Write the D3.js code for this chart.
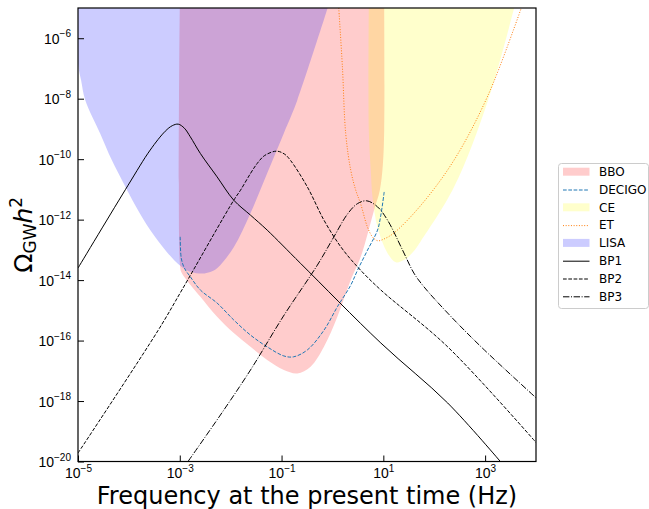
<!DOCTYPE html>
<html lang="en">
<head>
<meta charset="UTF-8">
<title>GW spectra vs detector sensitivities</title>
<script src="https://d3js.org/d3.v7.min.js"></script>
<style>
  body { margin: 0; background: #fff; }
  svg { display: block; font-family: "DejaVu Sans", sans-serif; }
</style>
</head>
<body>
<svg id="chart" width="649" height="509"></svg>
<script>
// all points are [frequency (Hz), Omega_GW h^2]

// sensitivity regions (filled)
const lisa = [
  [1e-5, 1e-5], [1e-5, 1.5e-7], [1.15e-5, 4.1e-8], [1.39e-5, 8.9e-9],
  [2.71e-5, 7.2e-10], [4.61e-5, 9.3e-11], [7.71e-5, 1.7e-11], [1.33e-4, 3.0e-12],
  [2.62e-4, 4.5e-13], [5.6e-4, 8.4e-14], [1.02e-3, 3.0e-14], [1.61e-3, 1.9e-14],
  [2.77e-3, 1.64e-14], [3.99e-3, 1.84e-14], [5.48e-3, 2.5e-14], [1.15e-2, 1.23e-13],
  [2.45e-2, 1.64e-12], [5.22e-2, 3.4e-11], [0.111, 7.2e-10], [0.204, 8.9e-9],
  [0.805, 1e-5]
];
const bbo = [
  [1e-3, 1e-5], [1e-3, 3.9e-14], [1.07e-3, 1.84e-14], [1.28e-3, 1.16e-14],
  [2.54e-3, 2.8e-15], [5.41e-3, 6.1e-16], [1.15e-2, 1.77e-16], [2.45e-2, 6.2e-17],
  [5.22e-2, 2.27e-17], [0.111, 1.06e-17], [0.204, 8.2e-18], [0.372, 1.36e-17],
  [0.681, 6.2e-17], [1.25, 6.1e-16], [2.29, 1.0e-14], [3.6, 5.9e-14],
  [6.59, 2.1e-12], [8.53, 9.4e-12], [9.77, 6.3e-11], [10.4, 9.1e-10], [10.4, 1e-5]
];
const ce = [
  [5.18, 1e-5], [5.18, 9.1e-10], [5.67, 4.3e-11], [6.13, 5.5e-12], [7.69, 5.6e-13],
  [12.1, 7.8e-14], [17.6, 3.9e-14], [25.4, 4.6e-14], [39.9, 9.1e-14], [54.8, 1.95e-13],
  [245, 1.19e-11], [1145, 8.9e-9], [3724, 1e-5]
];

// sensitivity curves (lines)
const decigo = [
  [1.02e-3, 2.7e-13], [1.07e-3, 5.3e-14], [1.23e-3, 2.5e-14], [1.61e-3, 1.29e-14],
  [2.54e-3, 4.7e-15], [5.41e-3, 1.74e-15], [1.15e-2, 4.8e-16], [2.45e-2, 1.52e-16],
  [5.22e-2, 6.2e-17], [0.111, 3.1e-17], [0.172, 2.9e-17], [0.321, 4.9e-17],
  [0.681, 2.2e-16], [1.25, 1.31e-15], [2.29, 6.8e-15], [3.1, 2.1e-14],
  [4.89, 9.8e-14], [7.69, 4.5e-13], [8.93, 1.41e-12], [10.4, 8.3e-12]
];
const et = [
  [1.33, 1e-5], [1.57, 1.12e-7], [1.82, 7.2e-10], [2.29, 4.3e-11], [2.87, 9.4e-12],
  [3.6, 3.25e-12], [4.89, 5.6e-13], [6.21, 2.6e-13], [7.8, 2.0e-13], [10.2, 2.27e-13],
  [16.1, 3.6e-13], [54.8, 3.0e-12], [245, 9.3e-11], [1145, 1.31e-8], [5117, 9.8e-6]
];

// benchmark point spectra
const bp1 = [
  [1e-5, 2.5e-14], [9.66e-5, 1.38e-11], [2.62e-4, 2.0e-10], [5.18e-4, 8.4e-10],
  [7.11e-4, 1.28e-9], [9.33e-4, 1.44e-9], [1.23e-3, 1.06e-9], [1.61e-3, 5.5e-10],
  [2.54e-3, 1.54e-10], [5.41e-3, 2.6e-11], [1.15e-2, 4.4e-12], [2.45e-2, 1.41e-12],
  [5.22e-2, 4.5e-13], [0.237, 3.56e-14], [8.93, 8.3e-17], [184, 8.6e-19], [2100, 9e-21]
];
const bp2 = [
  [1e-5, 1.9e-20], [3.77e-4, 2.2e-16], [1.1e-3, 4.7e-15], [1.15e-2, 4.4e-12],
  [1.56e-2, 9.4e-12], [2.45e-2, 3.36e-11], [3.32e-2, 7.2e-11], [4.62e-2, 1.31e-10],
  [7.96e-2, 1.84e-10], [0.115, 1.46e-10], [0.15, 9.1e-11], [0.321, 1.21e-11],
  [0.681, 9.6e-13], [1.46, 1.26e-13], [3.1, 2.75e-14], [8.93, 4.7e-15],
  [184, 6.2e-17], [1.01e4, 4.2e-20]
];
const bp3 = [
  [1.45e-3, 1e-20], [6.28e-3, 3.44e-19], [2.45e-2, 1.06e-17], [0.109, 6.45e-16],
  [0.505, 3.13e-14], [1.06, 2.64e-13], [1.97, 1.52e-12], [3.1, 3.38e-12],
  [4.73, 4.19e-12], [7.69, 2.65e-12], [12.1, 9.6e-13], [23.9, 9.8e-14],
  [39.9, 1.7e-14], [62.8, 6.0e-15], [184, 8.1e-16], [834, 6.2e-17], [1.01e4, 1.26e-18]
];

const xTicks = [1e-5, 1e-3, 1e-1, 1e1, 1e3];
const yTicks = [1e-20, 1e-18, 1e-16, 1e-14, 1e-12, 1e-10, 1e-8, 1e-6];

const margin = { top: 8, right: 113, bottom: 47.5, left: 78 };
const W = 649, H = 509;

const svg = d3.select("#chart");

const x = d3.scaleLog().domain([1e-5, 1e4]).range([margin.left, W - margin.right]);
const y = d3.scaleLog().domain([1e-20, 1e-5]).range([H - margin.bottom, margin.top]);

svg.append("defs").append("clipPath").attr("id", "plotClip")
  .append("rect")
  .attr("x", margin.left).attr("y", margin.top)
  .attr("width", x.range()[1] - x.range()[0])
  .attr("height", y.range()[0] - y.range()[1]);

const plot = svg.append("g").attr("clip-path", "url(#plotClip)");

const line = d3.line()
  .x(d => x(d[0]))
  .y(d => y(d[1]))
  .curve(d3.curveCatmullRom.alpha(0.5));

// filled regions (drawn in legend order, LISA last)
const regions = [
  { data: bbo, color: "rgba(255,0,0,0.2)" },
  { data: ce, color: "rgba(255,255,0,0.2)" },
  { data: lisa, color: "rgba(0,0,255,0.2)" }
];
regions.forEach(r => {
  plot.append("path")
    .attr("d", line(r.data) + "Z")
    .attr("fill", r.color)
    .attr("stroke", "none");
});

const curves = [
  { data: decigo, color: "#1f77b4", dash: "3.7,1.6" },
  { data: et, color: "#ff7f0e", dash: "1,1.65" },
  { data: bp1, color: "#000", dash: null },
  { data: bp2, color: "#000", dash: "3.7,1.6" },
  { data: bp3, color: "#000", dash: "6.4,1.6,1,1.6" }
];
curves.forEach(c => {
  plot.append("path")
    .attr("d", line(c.data))
    .attr("fill", "none")
    .attr("stroke", c.color)
    .attr("stroke-width", 1)
    .attr("stroke-dasharray", c.dash);
});

// axes: inward ticks, custom 10^n labels
const xAxis = svg.append("g")
  .attr("transform", `translate(0,${y.range()[0]})`)
  .call(d3.axisBottom(x).tickValues(xTicks).tickSizeInner(-6).tickSizeOuter(0).tickFormat(""));
const yAxis = svg.append("g")
  .attr("transform", `translate(${x.range()[0]},0)`)
  .call(d3.axisLeft(y).tickValues(yTicks).tickSizeInner(-6).tickSizeOuter(0).tickFormat(""));
xAxis.select(".domain").remove();
yAxis.select(".domain").remove();
svg.selectAll(".tick line").attr("stroke", "#000").attr("stroke-width", 1);

function powLabel(sel, v) {
  const e = Math.round(Math.log10(v));
  sel.append("tspan").text("10");
  sel.append("tspan")
    .attr("dy", -6.5)
    .style("font-size", "10px")
    .text((e < 0 ? "\u2212" : "") + Math.abs(e));
}

xAxis.selectAll(".tick").each(function(d) {
  const t = d3.select(this).append("text")
    .attr("y", 16.5)
    .attr("fill", "#000")
    .attr("text-anchor", "middle")
    .style("font-size", "14px");
  powLabel(t, d);
});
yAxis.selectAll(".tick").each(function(d) {
  const t = d3.select(this).append("text")
    .attr("x", -7)
    .attr("y", 5)
    .attr("fill", "#000")
    .attr("text-anchor", "end")
    .style("font-size", "14px");
  powLabel(t, d);
});

// frame
svg.append("rect")
  .attr("x", x.range()[0]).attr("y", y.range()[1])
  .attr("width", x.range()[1] - x.range()[0])
  .attr("height", y.range()[0] - y.range()[1])
  .attr("fill", "none")
  .attr("stroke", "#000")
  .attr("stroke-width", 1.2);

// axis titles
svg.append("text")
  .attr("x", (x.range()[0] + x.range()[1]) / 2)
  .attr("y", 504)
  .attr("text-anchor", "middle")
  .style("font-size", "24px")
  .text("Frequency at the present time (Hz)");

const yl = svg.append("text")
  .attr("transform", `translate(32,${(y.range()[0] + y.range()[1]) / 2}) rotate(-90)`)
  .attr("text-anchor", "middle")
  .style("font-size", "25px");
yl.append("tspan").text("\u03A9");
yl.append("tspan").attr("dy", 4).style("font-size", "17px").text("GW");
yl.append("tspan").attr("dy", -4).style("font-style", "italic").text("h");
yl.append("tspan").attr("dy", -10).style("font-size", "17px").text("2");

// legend
const legendItems = [
  { label: "BBO", kind: "patch", color: "rgba(255,0,0,0.2)" },
  { label: "DECIGO", kind: "line", color: "#1f77b4", dash: "3.7,1.6" },
  { label: "CE", kind: "patch", color: "rgba(255,255,0,0.2)" },
  { label: "ET", kind: "line", color: "#ff7f0e", dash: "1,1.65" },
  { label: "LISA", kind: "patch", color: "rgba(0,0,255,0.2)" },
  { label: "BP1", kind: "line", color: "#000", dash: null },
  { label: "BP2", kind: "line", color: "#000", dash: "3.7,1.6" },
  { label: "BP3", kind: "line", color: "#000", dash: "6.4,1.6,1,1.6" }
];

const legend = svg.append("g").attr("transform", "translate(558.5,163.5)");
legend.append("rect")
  .attr("width", 90).attr("height", 145)
  .attr("rx", 3)
  .attr("fill", "rgba(255,255,255,0.8)")
  .attr("stroke", "#cccccc")
  .attr("stroke-width", 1);

legendItems.forEach((it, i) => {
  const g = legend.append("g").attr("transform", `translate(0,${8.2 + i * 17.8})`);
  if (it.kind === "patch") {
    g.append("rect").attr("x", 4.5).attr("y", -4).attr("width", 26.5).attr("height", 8)
      .attr("fill", it.color);
  } else {
    g.append("line").attr("x1", 4.5).attr("x2", 31).attr("y1", 0.5).attr("y2", 0.5)
      .attr("stroke", it.color).attr("stroke-width", 1)
      .attr("stroke-dasharray", it.dash);
  }
  g.append("text").attr("x", 40.5).attr("y", 4.3)
    .style("font-size", "12px")
    .text(it.label);
});
</script>
</body>
</html>
